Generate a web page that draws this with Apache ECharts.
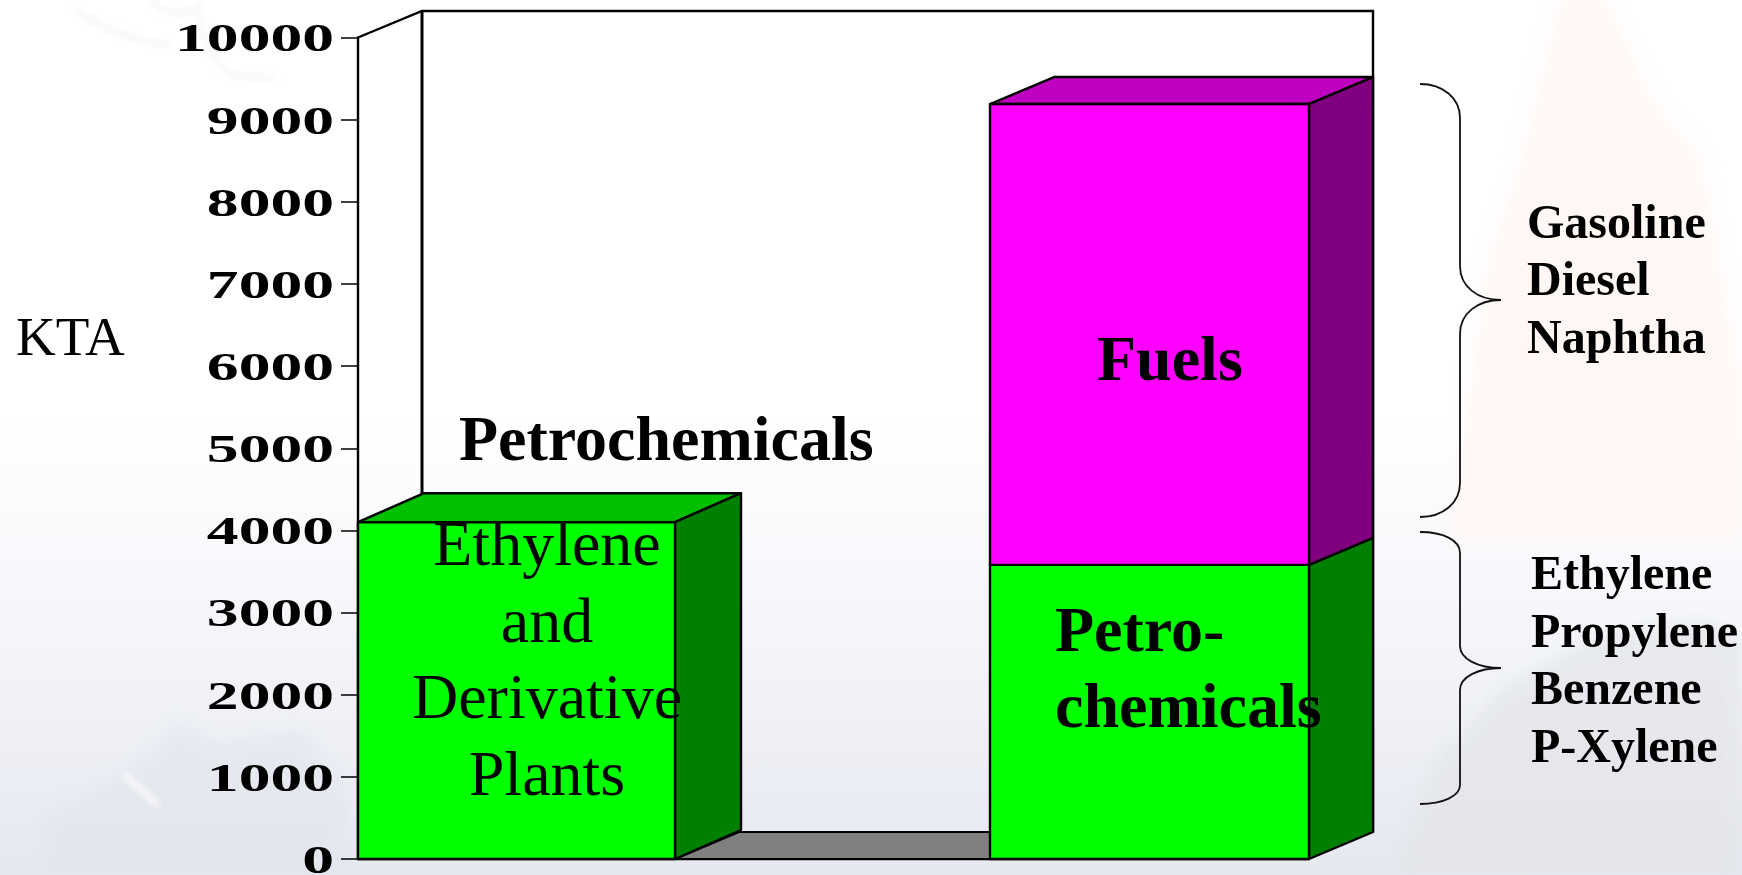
<!DOCTYPE html>
<html>
<head>
<meta charset="utf-8">
<style>
  html, body { margin: 0; padding: 0; width: 1742px; height: 875px; overflow: hidden; background: #fff; }
  #bg { position: absolute; left: 0; top: 0; width: 1742px; height: 875px; }
  #main { position: absolute; left: 0; top: 0; width: 1742px; height: 875px; }
</style>
<script src="https://cdn.jsdelivr.net/npm/echarts@6/dist/echarts.min.js"></script>
</head>
<body>
<svg id="bg" xmlns="http://www.w3.org/2000/svg" width="1742" height="875">
  <defs>
    <linearGradient id="fade" x1="0" y1="0" x2="0" y2="1">
      <stop offset="0.48" stop-color="#ffffff"/>
      <stop offset="0.74" stop-color="#f3f5f9"/>
      <stop offset="1" stop-color="#e6e8f0"/>
    </linearGradient>
    <filter id="b8"><feGaussianBlur stdDeviation="8"/></filter>
    <filter id="b3"><feGaussianBlur stdDeviation="3"/></filter>
  </defs>
  <rect width="1742" height="875" fill="url(#fade)"/>
  <path d="M1565 -10 L1600 -10 L1650 100 L1700 160 L1725 300 L1742 400 L1742 540 L1450 540 L1490 260 L1520 170 Z" fill="#fff7f4" filter="url(#b8)"/>
  <path d="M40 820 L130 770 L180 720 L215 745 L300 730 L345 790 L345 875 L40 875 Z" fill="#e2e5ec" opacity="0.6" filter="url(#b8)"/>
  <path d="M1390 875 L1430 770 L1500 690 L1590 640 L1700 620 L1742 640 L1742 875 Z" fill="#e3e5e9" opacity="0.7" filter="url(#b8)"/>
  <path d="M125 775 L158 805" stroke="#ffffff" stroke-width="5" filter="url(#b3)"/>
  <path d="M75 10 Q120 40 170 45 M150 0 Q165 18 195 10 M200 0 Q190 30 230 75 L275 78" stroke="#f4f4f4" stroke-width="4" fill="none" filter="url(#b3)"/>
</svg>
<div id="main"></div>
<script>
// ---- data ----
const categories = ['Ethylene and Derivative Plants', '', 'Refinery'];
const petrochemicals = [4100, null, 3580];
const fuels = [null, null, 5610];
const yTicks = [0, 1000, 2000, 3000, 4000, 5000, 6000, 7000, 8000, 9000, 10000];
const yMax = 10000;
const yInterval = 1000;
const yAxisTitle = 'KTA';
const barLabelLeft = ['Ethylene', 'and', 'Derivative', 'Plants'];
const barLabelRight = ['Petro-', 'chemicals'];
const fuelsLabel = 'Fuels';
const petrochemicalsLabel = 'Petrochemicals';
const fuelProducts = ['Gasoline', 'Diesel', 'Naphtha'];
const petroProducts = ['Ethylene', 'Propylene', 'Benzene', 'P-Xylene'];

// ---- styling ----
const SERIF = '"Liberation Serif", "Times New Roman", serif';
const GREEN = { front: '#00ff00', side: '#008000', top: '#00c000' };
const MAGENTA = { front: '#ff00ff', side: '#800080', top: '#c000c0' };
const depthX = [66, 0, 64];
const depthY = [29, 0, 27];
const leftNudge = [0, 0, -2];
const WALL_DX = 64, WALL_DY = 26.5;
const BASELINE_SHIFT = 0.3375;
const BASELINE_FIX = 4.5;
const BRACES = [
  'M1420 84 C1443 84 1460 98 1460 118 L1460 266 C1460 287 1478 300 1501 300 C1478 300 1460 313 1460 334 L1460 483 C1460 503 1443 517 1420 517',
  'M1420 532 C1443 532 1460 540 1460 553 L1460 646 C1460 659 1478 668 1501 668 C1478 668 1460 677 1460 690 L1460 785 C1460 796 1443 804 1420 804'
];

function wrapRender(colors) {
  return function (params, api) {
    const idx = api.value(0);
    const base = api.value(1), top = api.value(2);
    const c0 = api.coord([idx, base]);
    const c1 = api.coord([idx, top]);
    const band = api.size([1, 0])[0];
    const l = c0[0] - band / 2 + leftNudge[idx];
    const r = c0[0] + band / 2;
    const yb = c0[1], yt = c1[1];
    const dx = depthX[idx], dy = depthY[idx];
    const stroke = { stroke: '#000', lineWidth: 2.4, lineJoin: 'round' };
    return {
      type: 'group',
      children: [
        { type: 'polygon', shape: { points: [[l, yt], [l + dx, yt - dy], [r + dx, yt - dy], [r, yt]] },
          style: Object.assign({ fill: colors.top }, stroke) },
        { type: 'polygon', shape: { points: [[r, yb], [r + dx, yb - dy], [r + dx, yt - dy], [r, yt]] },
          style: Object.assign({ fill: colors.side }, stroke) },
        { type: 'rect', shape: { x: l, y: yt, width: r - l, height: yb - yt },
          style: Object.assign({ fill: colors.front }, stroke) }
      ]
    };
  };
}

function renderWalls(params, api) {
  const o = api.coord([0, 0]);
  const band = api.size([1, 0])[0];
  const left = o[0] - band / 2;
  const right = left + band * categories.length;
  const yBottom = o[1];
  const yTop = api.coord([0, yMax])[1];
  const line = { stroke: '#000', lineWidth: 2.4, fill: null };
  return {
    type: 'group',
    children: [
      { type: 'polygon', shape: { points: [[left + band, yBottom], [left + band + WALL_DX, yBottom - WALL_DY - 0.5], [right, yBottom - WALL_DY - 0.5], [right, yBottom]] },
        style: { fill: '#808080', stroke: '#000', lineWidth: 2 } },
      { type: 'polyline', shape: { points: [[left, yTop], [left + WALL_DX, yTop - WALL_DY], [right + WALL_DX, yTop - WALL_DY], [right + WALL_DX, yBottom - WALL_DY]] },
        style: line },
      { type: 'line', shape: { x1: left + WALL_DX, y1: yTop - WALL_DY, x2: left + WALL_DX, y2: yBottom - WALL_DY },
        style: { stroke: '#000', lineWidth: 3 } }
    ]
  };
}

function renderTickLabel(params, api) {
  const v = api.value(0);
  const y = api.coord([0, v])[1];
  const o = api.coord([0, 0]);
  const axisX = o[0] - api.size([1, 0])[0] / 2;
  return {
    type: 'text',
    x: axisX - 24,
    y: y + 17 - BASELINE_SHIFT * 39,
    scaleX: 1.63,
    style: { text: String(v), align: 'right', verticalAlign: 'middle', font: 'bold 39px ' + SERIF, fill: '#000' }
  };
}

function renderBrace(params, api) {
  return {
    type: 'path',
    shape: { pathData: BRACES[api.value(0)] },
    style: { fill: null, stroke: '#111', lineWidth: 1.8 }
  };
}

function stackItems(lower, upper) {
  return categories.map(function (_, i) {
    const base = lower ? (lower[i] || 0) : 0;
    return upper[i] == null ? null : [i, base, base + upper[i]];
  }).filter(Boolean);
}

function textEl(text, x, y, size, bold, align) {
  return { type: 'text', x: x, y: y + BASELINE_FIX - BASELINE_SHIFT * size, z: 20,
    style: { text: text, align: align || 'left', verticalAlign: 'middle',
             font: (bold ? 'bold ' : '') + size + 'px ' + SERIF, fill: '#000' } };
}
function linesEl(lines, x, baselines, size, bold, align) {
  return lines.map(function (t, i) { return textEl(t, x, baselines[i], size, bold, align); });
}

const graphics = [].concat(
  [textEl(yAxisTitle, 16, 355, 55, false)],
  [textEl(petrochemicalsLabel, 459, 461, 64, true)],
  linesEl(barLabelLeft, 547, [565, 642, 718, 795], 64, false, 'center'),
  [textEl(fuelsLabel, 1097, 381, 64, true)],
  linesEl(barLabelRight, 1055, [652, 728], 64, true),
  linesEl(fuelProducts, 1527, [237, 294, 352], 48, true),
  linesEl(petroProducts, 1531, [588, 646, 703, 761], 48, true)
);

const chart = echarts.init(document.getElementById('main'), null, { width: 1742, height: 875 });
chart.setOption({
  backgroundColor: 'transparent',
  animation: false,
  grid: { left: 358, right: 433, top: 37.5, bottom: 16, containLabel: false },
  xAxis: {
    type: 'category',
    data: categories,
    axisLine: { show: true, lineStyle: { color: '#000', width: 2.4 } },
    axisTick: { show: false },
    axisLabel: { show: false },
    splitLine: { show: false }
  },
  yAxis: {
    type: 'value',
    min: 0,
    max: yMax,
    interval: yInterval,
    axisLine: { show: true, onZero: false, lineStyle: { color: '#000', width: 2.4 } },
    axisTick: { show: true, inside: false, length: 17, lineStyle: { color: '#000', width: 1.5 } },
    axisLabel: { show: false },
    splitLine: { show: false }
  },
  graphic: { elements: graphics },
  series: [
    { name: 'Walls', type: 'custom', z: 1, clip: false, silent: true, renderItem: renderWalls, encode: { x: 0 }, data: [[0]] },
    { name: 'Petrochemicals', type: 'custom', z: 3, clip: false, renderItem: wrapRender(GREEN),
      encode: { x: 0, y: [1, 2] }, data: stackItems(null, petrochemicals) },
    { name: 'Fuels', type: 'custom', z: 3, clip: false, renderItem: wrapRender(MAGENTA),
      encode: { x: 0, y: [1, 2] }, data: stackItems(petrochemicals, fuels) },
    { name: 'Tick labels', type: 'custom', z: 4, clip: false, silent: true,
      renderItem: renderTickLabel, encode: { y: 0 }, data: yTicks.map(function (v) { return [v]; }) },
    { name: 'Braces', type: 'custom', z: 4, clip: false, silent: true,
      renderItem: renderBrace, encode: { x: 0 }, data: BRACES.map(function (_, i) { return [i]; }) }
  ]
});
</script>
</body>
</html>
